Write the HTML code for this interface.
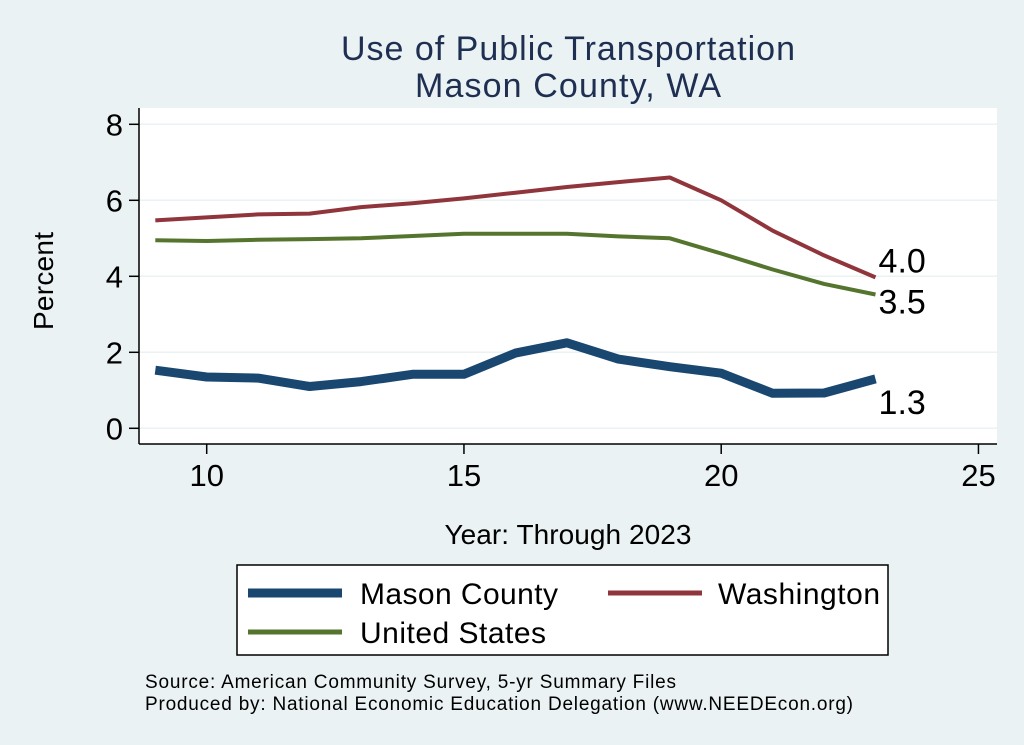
<!DOCTYPE html>
<html><head><meta charset="utf-8"><style>
body{margin:0;background:#eaf2f3;}
svg{display:block;font-family:"Liberation Sans",Arial,sans-serif;}
</style></head><body>
<svg width="1024" height="745">
<rect x="0" y="0" width="1024" height="745" fill="#eaf2f3"/>
<text x="568" y="60" font-size="34" fill="#1e2f52" text-anchor="middle" textLength="454">Use of Public Transportation</text>
<text x="568" y="97" font-size="34" fill="#1e2f52" text-anchor="middle" textLength="306">Mason County, WA</text>
<rect x="139" y="108" width="858" height="336" fill="#fff"/>
<g id="grid"></g>
<g id="axes"></g>
<g id="series"></g>
<text x="53" y="281" font-size="28" text-anchor="middle" transform="rotate(-90 53 281)" textLength="98">Percent</text>
<text x="568" y="544" font-size="28" text-anchor="middle" textLength="247">Year: Through 2023</text>
<g>
<rect x="237" y="565" width="651" height="90" fill="#fff" stroke="#000" stroke-width="1.5"/>
<line x1="248" y1="593" x2="342" y2="593" stroke="#1a476f" stroke-width="9"/>
<text x="360" y="604" font-size="30" textLength="198">Mason County</text>
<line x1="608" y1="593" x2="702" y2="593" stroke="#90353b" stroke-width="5"/>
<text x="718" y="604" font-size="30" textLength="162">Washington</text>
<line x1="248" y1="632" x2="342" y2="632" stroke="#55752f" stroke-width="5"/>
<text x="360" y="643" font-size="30" textLength="186">United States</text>
</g>
<text x="145" y="688" font-size="19" textLength="531">Source: American Community Survey, 5-yr Summary Files</text>
<text x="145" y="710" font-size="19" textLength="708">Produced by: National Economic Education Delegation (www.NEEDEcon.org)</text>
</svg>
<script>
const years=[9,10,11,12,13,14,15,16,17,18,19,20,21,22,23];
const mason=[1.53,1.35,1.32,1.1,1.23,1.42,1.42,1.98,2.25,1.82,1.62,1.45,0.92,0.93,1.3];
const washington=[5.47,5.55,5.63,5.65,5.82,5.92,6.05,6.2,6.35,6.48,6.6,6.0,5.2,4.55,3.97];
const unitedStates=[4.95,4.93,4.96,4.98,5.0,5.06,5.12,5.12,5.12,5.05,5.0,4.6,4.18,3.8,3.52];
const yTicks=[0,2,4,6,8];
const xTicks=[10,15,20,25];
const NS="http://www.w3.org/2000/svg";
function X(v){return 206.7+(v-10)*51.45;}
function Y(v){return 428.3-v*38;}
function mk(tag,attrs,parent,text){const e=document.createElementNS(NS,tag);for(const k in attrs)e.setAttribute(k,attrs[k]);if(text!==undefined)e.textContent=text;document.getElementById(parent).appendChild(e);return e;}
yTicks.forEach(t=>{
 const g=mk('line',{x1:139,x2:997,y1:Y(t),y2:Y(t),stroke:'#eaf2f3','stroke-width':1.5},'grid');
 
 
 const tk=mk('line',{x1:129,x2:139,y1:Y(t),y2:Y(t),stroke:'#000','stroke-width':1.5},'axes');
 
 
 const l=mk('text',{x:123,y:Y(t)+11,'font-size':31,'text-anchor':'end'},'axes',String(t));
 
 
});
xTicks.forEach(t=>{
 const tk=mk('line',{x1:X(t),x2:X(t),y1:444,y2:454,stroke:'#000','stroke-width':1.5},'axes');
 
 
 const l=mk('text',{x:X(t),y:486,'font-size':31,'text-anchor':'middle'},'axes',String(t));
 
 
});
const ya=mk('line',{x1:139,x2:139,y1:108,y2:444,stroke:'#000','stroke-width':1.5},'axes');


const xa=mk('line',{x1:139,x2:997,y1:444,y2:444,stroke:'#000','stroke-width':1.5},'axes');


function line(vals,color,w,name,labelDy){
 const d=vals.map((v,i)=>(i?'L':'M')+X(years[i]).toFixed(1)+','+Y(v).toFixed(1)).join(' ');
 const p=mk('path',{d:d,fill:'none',stroke:color,'stroke-width':w,'stroke-linejoin':'round'},'series');
 
 
 const last=vals[vals.length-1];
 const t=mk('text',{x:X(years[years.length-1])+3,y:Y(last)+labelDy,'font-size':34},'series',last.toFixed(1));
 
 
}
line(washington,'#90353b',4,'washington-line',-5);
line(unitedStates,'#55752f',4,'us-line',19);
line(mason,'#1a476f',9,'mason-line',35);
</script>
</body></html>
